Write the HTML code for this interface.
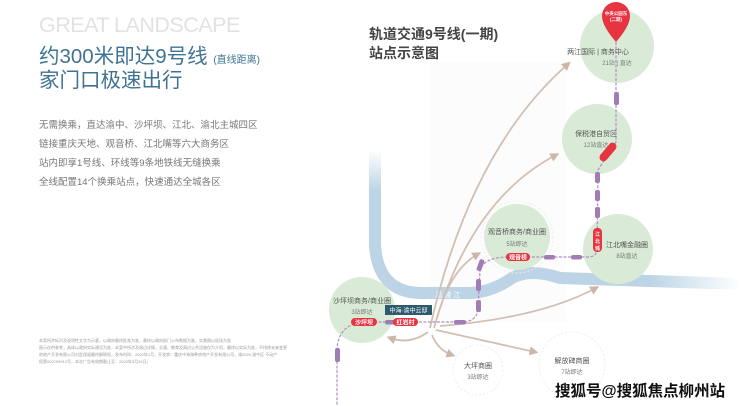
<!DOCTYPE html>
<html><head><meta charset="utf-8"><style>
html,body{margin:0;padding:0;background:#fff;}
body{width:740px;height:406px;overflow:hidden;position:relative;font-family:"Liberation Sans","Noto Sans CJK SC",sans-serif;}
.t{position:absolute;white-space:nowrap;}
</style></head><body>
<div class="t" style="left:39px;top:13px;font-size:21.5px;color:#e2e2e2;letter-spacing:-0.5px;">GREAT LANDSCAPE</div>
<div class="t" style="left:39px;top:39px;font-size:20.5px;color:#3f7393;">约300米即达9号线 <span style="font-size:10px;">(直线距离)</span></div>
<div class="t" style="left:39px;top:63px;font-size:20.5px;color:#3f7393;">家门口极速出行</div>
<div class="t" style="left:39px;top:116px;font-size:9.5px;color:#777;line-height:19px;">无需换乘，直达渝中、沙坪坝、江北、渝北主城四区<br>链接重庆天地、观音桥、江北嘴等六大商务区<br>站内即享1号线、环线等9条地铁线无缝换乘<br>全线配置14个换乘站点，快速通达全城各区</div>
<div class="t" style="left:39px;top:337px;font-size:4px;color:#999;line-height:7px;">本案所涉标识及说明性文字为示意，以政府最终批准为准，最终以政府部门公布数据为准，实景图以现场为准<br>图示仅供参考，具体以政府实际建设为准，本案中所涉及周边详情，交通、教育及周边公共设施仅为介绍，最终以实际为准，不排除未来变更<br>房地产开发有限公司对此保留最终解释权，发布时间：2022年1月，开发商：重庆中海海畔房地产开发有限公司，渝2020 渝中区 不动产<br>权第000799912号，本次广告有效期截止至：2022年3月31日。</div>
<div class="t" style="left:369px;top:25px;font-size:14px;font-weight:bold;color:#444;line-height:19px;">轨道交通9号线(一期)<br>站点示意图</div>
<svg width="740" height="406" style="position:absolute;left:0;top:0" font-family="Liberation Sans, Noto Sans CJK SC, sans-serif">
<defs>
<linearGradient id="rv" x1="0" y1="0" x2="1" y2="0"><stop offset="0.75" stop-color="#bcd4e5"/><stop offset="1" stop-color="#bcd4e5" stop-opacity="0"/></linearGradient>
<linearGradient id="rv2" x1="0" y1="0" x2="0" y2="1"><stop offset="0" stop-color="#bcd4e5" stop-opacity="0"/><stop offset="1" stop-color="#bcd4e5"/></linearGradient>
<marker id="ah" markerWidth="5" markerHeight="5" refX="3" refY="2.5" orient="auto"><path d="M0,0 L5,2.5 L0,5 z" fill="#cdb6a8"/></marker>
</defs>
<rect x="430" y="62" width="136" height="260" fill="#fdfcfd"/>
<path d="M375,190 L375,245 Q378,292 420,293 L470,293 Q492,292 512,278 Q530,268 560,278 L740,284" stroke="url(#rv)" stroke-width="12" fill="none"/>
<rect x="369" y="150" width="12" height="41" fill="url(#rv2)"/>
<text x="448" y="297" font-size="7" fill="#fff" text-anchor="middle">嘉 陵 江</text>
<circle cx="617" cy="46" r="37" fill="#d9ebd7"/>
<circle cx="597" cy="139" r="35" fill="#d9ebd7"/>
<circle cx="618" cy="249" r="35" fill="#d9ebd7"/>
<circle cx="517" cy="237" r="33" fill="#d9ebd7"/>
<circle cx="517" cy="237" r="36" fill="none" stroke="#eee" stroke-dasharray="2,2"/>
<circle cx="362" cy="310" r="33" fill="#d9ebd7"/>
<circle cx="478" cy="370" r="25" fill="none" stroke="#eee" stroke-dasharray="2,2"/>
<circle cx="572" cy="365" r="33" fill="none" stroke="#eee" stroke-dasharray="2,2"/>
<g stroke="#d3bfb2" stroke-width="1.8" fill="none" marker-end="url(#ah)">
<path d="M430,328 Q470,150 568,64"/>
<path d="M434,328 Q470,200 556,155"/>
<path d="M437,318 Q450,270 478,254"/>
<path d="M428,332 Q410,345 390,338"/>
<path d="M432,335 Q438,350 452,355"/>
<path d="M436,330 L535,352"/>
<path d="M440,326 Q540,318 596,288"/>
</g>
<path d="M616,42 L616,142 L598,170 L597,250 Q596,257 588,257 L506,257 Q484,258 480,270 L478,310 Q476,322 462,322 L364,322 Q338,324 337,350 L337,406" stroke="#b08fbe" stroke-width="1.2" stroke-dasharray="3,1.5" fill="none"/>
<g fill="#a07db2">
<rect x="614" y="92" width="5" height="13" rx="2"/>
<rect x="595" y="172" width="5" height="11" rx="2"/>
<rect x="595" y="190" width="5" height="11" rx="2"/>
<rect x="595" y="207" width="5" height="11" rx="2"/>
<rect x="544" y="255" width="11" height="4.5" rx="2"/>
<rect x="571" y="255" width="11" height="4.5" rx="2"/>
<rect x="478" y="259" width="5" height="12" rx="2" transform="rotate(20 480 265)"/>
<rect x="476" y="279" width="5" height="12" rx="2"/>
<rect x="476" y="300" width="5" height="12" rx="2"/>
<rect x="454" y="320" width="12" height="4.5" rx="2"/>
<rect x="385" y="320" width="11" height="4.5" rx="2"/>
<rect x="335" y="348" width="5" height="14" rx="2"/>
</g>
<g fill="#e63440">
<rect x="593" y="228" width="9" height="24" rx="4"/>
<rect x="506" y="253" width="24" height="8" rx="4"/>
<rect x="393" y="318" width="25" height="8" rx="4"/>
<rect x="351" y="318" width="26" height="8" rx="4"/>
<rect x="597" y="148" width="22" height="8" rx="4" transform="rotate(-50 608 152)"/>
<path d="M616,42 Q602,26 602,16 A14,14 0 1 1 630,16 Q630,26 616,42 z"/>
</g>
<g fill="#fff" font-size="6" font-weight="bold" text-anchor="middle">
<text x="518" y="259.5">观音桥</text>
<text x="405.5" y="324.5">红岩村</text>
<text x="364" y="324.5">沙坪坝</text>
<text x="597.5" y="236" font-size="5">江</text><text x="597.5" y="243" font-size="5">北</text><text x="597.5" y="250" font-size="5">城</text>
<text x="616" y="15" font-size="4.5">中央公园东</text>
<text x="616" y="21" font-size="4.5">(二期)</text>
</g>
<rect x="385" y="305" width="47" height="10" fill="#2e5a6e"/>
<text x="408.5" y="312.5" font-size="6" fill="#fff" text-anchor="middle">中海·渝中云邸</text>
<g font-size="7" fill="#555" text-anchor="middle">
<text x="598" y="54">两江国际 | 商务中心</text>
<text x="617" y="65" font-size="6" fill="#777">21站 | 直达</text>
<text x="596" y="136">保税港自贸区</text>
<text x="596" y="147" font-size="6" fill="#777">12站直达</text>
<text x="627" y="247">江北嘴金融圈</text>
<text x="627" y="258" font-size="6" fill="#777">8站直达</text>
<text x="517" y="234">观音桥商务/商业圈</text>
<text x="517" y="246" font-size="6" fill="#777">5站即达</text>
<text x="362" y="303">沙坪坝商务/商业圈</text>
<text x="362" y="314" font-size="6" fill="#777">3站即达</text>
<text x="478" y="368">大坪商圈</text>
<text x="478" y="379" font-size="6" fill="#777">3站即达</text>
<text x="572" y="363">解放碑商圈</text>
<text x="572" y="374" font-size="6" fill="#777">7站即达</text>
</g>
<text x="555" y="396" font-size="15.5" font-weight="bold" fill="#111" stroke="#fff" stroke-width="0.8" paint-order="stroke">搜狐号@搜狐焦点柳州站</text>
</svg>
</body></html>
